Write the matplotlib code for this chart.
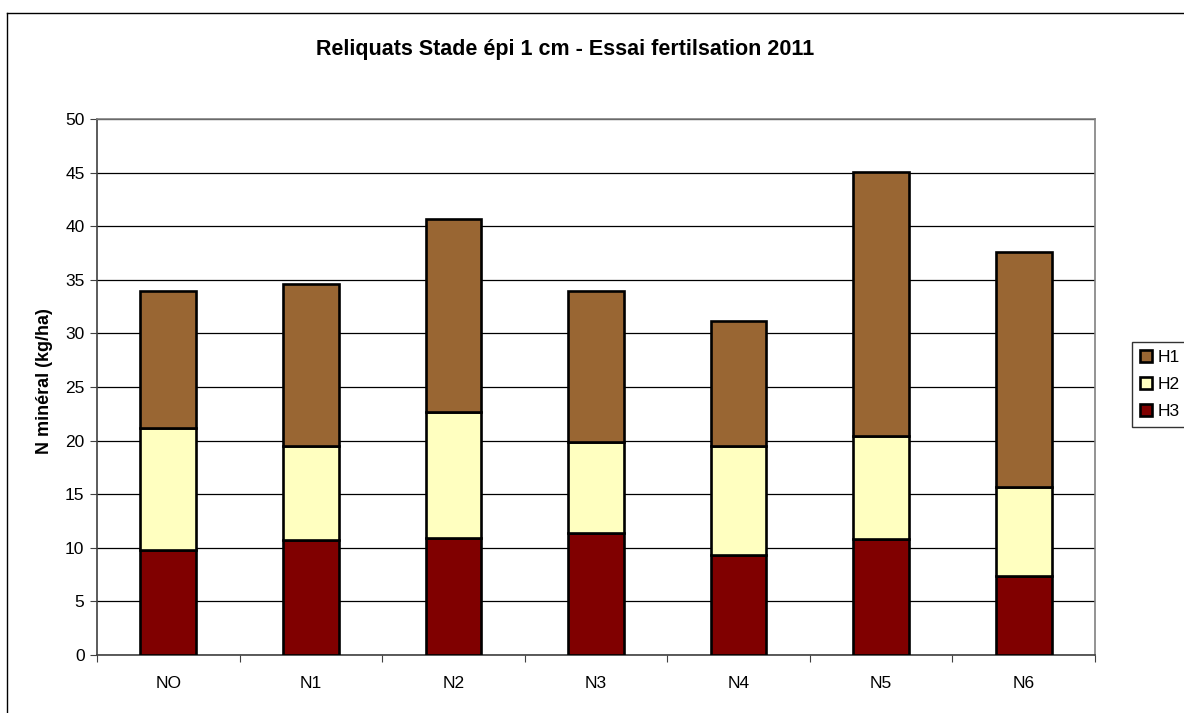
import matplotlib
matplotlib.use("Agg")
import matplotlib.pyplot as plt
from matplotlib.patches import Patch
from matplotlib.lines import Line2D
import numpy as np

plt.rcParams['font.family'] = ['Liberation Sans', 'DejaVu Sans']

categories = ["NO", "N1", "N2", "N3", "N4", "N5", "N6"]
H3 = [9.8, 10.7, 10.9, 11.4, 9.3, 10.85, 7.35]
H2 = [11.4, 8.8, 11.8, 8.5, 10.2, 9.55, 8.35]
H1 = [12.8, 15.1, 18.0, 14.1, 11.7, 24.7, 21.9]
yticks = [0, 5, 10, 15, 20, 25, 30, 35, 40, 45, 50]

title = "Reliquats Stade épi 1 cm - Essai fertilsation 2011"
ylabel = "N minéral (kg/ha)"

W, H = 1184, 713
fig = plt.figure(figsize=(W / 100, H / 100), dpi=100)
ax = fig.add_axes([97 / W, 1 - 655 / H, (1095 - 97) / W, (655 - 119) / H])

fs = 12.5
x = np.arange(len(categories))
w = 0.39
c1, c2, c3 = "#996633", "#FFFFC0", "#800000"
lw = 1.9
b3 = np.array(H3)
b2 = b3 + np.array(H2)
ax.bar(x, H3, w, color=c3, edgecolor="black", linewidth=lw, zorder=3)
ax.bar(x, H2, w, bottom=b3, color=c2, edgecolor="black", linewidth=lw, zorder=3)
ax.bar(x, H1, w, bottom=b2, color=c1, edgecolor="black", linewidth=lw, zorder=3)

ax.set_xlim(-0.5, len(categories) - 0.5)
ax.set_ylim(0, 50)
ax.set_yticks(yticks)
ax.set_yticklabels([str(t) for t in yticks], fontsize=fs)
ax.yaxis.grid(True, color="#000000", linewidth=0.9, zorder=0)
ax.set_axisbelow(True)

ax.set_xticks(np.arange(-0.5, len(categories)), minor=False)
ax.set_xticklabels([])
ax.set_xticks(x, minor=True)
ax.set_xticklabels(categories, minor=True, fontsize=fs)
ax.tick_params(axis="x", which="major", direction="out", length=5, color="#404040")
ax.tick_params(axis="x", which="minor", length=0, pad=15)
ax.tick_params(axis="y", direction="out", length=5, color="#404040", pad=4)

for s in ["top", "right"]:
    ax.spines[s].set_color("#808080")
    ax.spines[s].set_linewidth(1.2)
for s in ["left", "bottom"]:
    ax.spines[s].set_color("#404040")
    ax.spines[s].set_linewidth(1.2)

ax.set_ylabel(ylabel, fontsize=13, fontweight="bold")
ax.yaxis.set_label_coords(-0.044, 0.512)
fig.text(565 / W, 1 - 50 / H, title, fontsize=15.5, fontweight="bold",
         ha="center", va="center")

# outer chart border (left and top visible)
fig.add_artist(Line2D([7 / W, 7 / W], [0, 1 - 13 / H], color="black", linewidth=1.0))
fig.add_artist(Line2D([7 / W, 1], [1 - 13 / H, 1 - 13 / H], color="black", linewidth=1.0))

handles = [Patch(facecolor=c1, edgecolor="black", linewidth=lw),
           Patch(facecolor=c2, edgecolor="black", linewidth=lw),
           Patch(facecolor=c3, edgecolor="black", linewidth=lw)]
leg = fig.legend(handles, ["H1", "H2", "H3"], loc="upper left",
                 bbox_to_anchor=(1132 / W, 1 - 342 / H), fontsize=fs,
                 frameon=True, fancybox=False, edgecolor="black",
                 handlelength=0.7, handleheight=0.7, handletextpad=0.3,
                 labelspacing=0.68, borderpad=0.45, borderaxespad=0)
leg.get_frame().set_linewidth(1.0)

fig.savefig("out.png", dpi=100)
